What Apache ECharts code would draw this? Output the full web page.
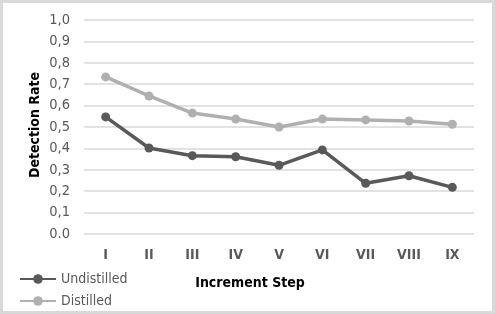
<!DOCTYPE html>
<html><head><meta charset="utf-8">
<script src="https://cdn.jsdelivr.net/npm/echarts@6/dist/echarts.min.js"></script>
<style>html,body{margin:0;padding:0;background:#fff}#c{width:495px;height:314px}</style>
</head><body><div id="c"></div>
<script>
var categories = ['I','II','III','IV','V','VI','VII','VIII','IX'];
var undistilled = [0.547,0.402,0.366,0.361,0.321,0.393,0.237,0.272,0.218];
var distilled = [0.734,0.645,0.565,0.537,0.500,0.537,0.533,0.528,0.513];
var yTickLabels = ['0.0','0,1','0,2','0,3','0,4','0,5','0,6','0,7','0,8','0,9','1,0'];
var xTitle = 'Increment Step';
var yTitle = 'Detection Rate';

var chart = echarts.init(document.getElementById('c'), null, {renderer:'canvas'});
var font = 'DejaVu Sans Condensed';
chart.setOption({
  animation:false,
  backgroundColor:'#fff',
  grid:{left:84,right:21,top:20,bottom:80},
  legend:{
    orient:'vertical', left:14, top:267, itemWidth:36, itemHeight:12, itemGap:8,
    textStyle:{color:'#595959', fontSize:14, fontFamily:font},
    data:['Undistilled','Distilled']
  },
  xAxis:{
    type:'category', data:categories, boundaryGap:true,
    axisLine:{show:false}, axisTick:{show:false},
    axisLabel:{color:'#595959', fontSize:14, fontWeight:'bold', fontFamily:font, margin:14}
  },
  yAxis:{
    type:'value', min:0, max:1, interval:0.1,
    axisLine:{show:false}, axisTick:{show:false},
    splitLine:{lineStyle:{color:'#d9d9d9', width:1.5}},
    axisLabel:{color:'#595959', fontSize:14.5, fontFamily:font, margin:14,
      formatter:function(v){return yTickLabels[Math.round(v*10)];}}
  },
  series:[
    {name:'Undistilled', type:'line', data:undistilled, symbol:'circle', symbolSize:9,
     itemStyle:{color:'#595959'}, lineStyle:{color:'#595959', width:3.5}},
    {name:'Distilled', type:'line', data:distilled, symbol:'circle', symbolSize:9,
     itemStyle:{color:'#b0b0b0'}, lineStyle:{color:'#b0b0b0', width:3.5}}
  ],
  graphic:[
    {type:'rect', shape:{x:1.5,y:1.5,width:492,height:311}, style:{fill:null, stroke:'#d9d9d9', lineWidth:3}, silent:true},
    {type:'text', x:250, y:283, style:{text:xTitle, fill:'#000', font:'bold 14px "DejaVu Sans Condensed"', align:'center', verticalAlign:'middle'}},
    {type:'text', x:35, y:125, rotation:Math.PI/2, style:{text:yTitle, fill:'#000', font:'bold 14px "DejaVu Sans Condensed"', align:'center', verticalAlign:'middle'}}
  ]
});
</script></body></html>
